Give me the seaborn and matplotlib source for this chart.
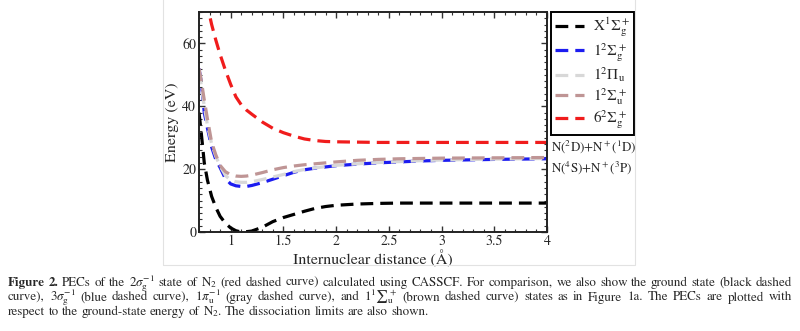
import numpy as np
import pandas as pd
import matplotlib
matplotlib.use("Agg")
import matplotlib.pyplot as plt
import seaborn as sns
from matplotlib.ticker import MultipleLocator, FuncFormatter
from matplotlib.patches import Rectangle

# ---------------- data ----------------
r = [0.70, 0.72, 0.75, 0.78, 0.82, 0.86, 0.90, 0.95, 1.00, 1.05, 1.10, 1.15, 1.20,
     1.30, 1.40, 1.50, 1.60, 1.70, 1.80, 1.90, 2.00, 2.20, 2.40, 2.60, 2.80, 3.00,
     3.50, 4.00]
e_X1Sg = [38, 32, 22, 16.5, 11.3, 7.8, 5.0, 2.8, 1.3, 0.4, 0.0, 0.1, 0.3,
          1.5, 3.3, 4.6, 5.6, 6.6, 7.5, 8.1, 8.5, 8.9, 9.1, 9.2, 9.2, 9.2, 9.2, 9.2]
e_12Sg = [52, 48, 38, 33, 27, 23, 20.5, 17, 15.3, 14.7, 14.5, 14.5, 14.8,
          15.7, 16.8, 17.9, 19.0, 19.8, 20.3, 20.7, 21.1, 21.6, 22.0, 22.3, 22.6, 22.8,
          23.1, 23.3]
e_12Pu = [51, 47, 40, 34, 28, 24, 21, 18, 16.5, 16.0, 15.8, 15.8, 16.0,
          16.7, 17.5, 18.3, 19.2, 19.9, 20.4, 20.8, 21.2, 21.7, 22.1, 22.4, 22.7, 22.9,
          23.2, 23.4]
e_12Su = [52, 48.5, 42, 36, 28.5, 24.5, 21.2, 19.2, 18.2, 17.8, 17.7, 17.8, 18.1,
          18.9, 19.8, 20.5, 21.0, 21.4, 21.7, 22.0, 22.3, 22.8, 23.1, 23.3, 23.4, 23.5,
          23.6, 23.7]
e_62Sg = [90, 85, 78, 72, 66, 61, 56.5, 51.5, 47, 43, 40.5, 38.8, 37.5,
          35.0, 33.0, 31.6, 30.5, 29.6, 29.1, 28.8, 28.7, 28.6, 28.5, 28.5, 28.5, 28.5,
          28.5, 28.5]

states = [r"X$^1\Sigma_\mathrm{g}^+$", r"1$^2\Sigma_\mathrm{g}^+$", r"1$^2\Pi_\mathrm{u}$",
          r"1$^2\Sigma_\mathrm{u}^+$", r"6$^2\Sigma_\mathrm{g}^+$"]
colors = ["#000000", "#1c1cf0", "#d8d8d8", "#bf9595", "#f01c1c"]
series = [e_X1Sg, e_12Sg, e_12Pu, e_12Su, e_62Sg]

x_ticks = [1, 1.5, 2, 2.5, 3, 3.5, 4]
y_ticks = [0, 20, 40, 60]
limit_labels = [r"N($^2$D)+N$^+$($^1$D)", r"N($^4$S)+N$^+$($^3$P)"]

caption_head = ["Figure", "2."]
caption_lines = [
    r"PECs of the 2$\sigma_\mathrm{g}^{-1}$ state of N$_2$ (red dashed curve) calculated using CASSCF. For comparison, we also show the ground state (black dashed",
    r"curve), 3$\sigma_\mathrm{g}^{-1}$ (blue dashed curve), 1$\pi_\mathrm{u}^{-1}$ (gray dashed curve), and 1$^1$∑$_\mathrm{u}^+$ (brown dashed curve) states as in Figure 1a. The PECs are plotted with",
    r"respect to the ground-state energy of N$_2$. The dissociation limits are also shown.",
]

df = pd.DataFrame({
    "r": np.tile(r, len(states)),
    "E": np.concatenate(series),
    "state": np.repeat(states, len(r)),
})

# ---------------- style ----------------
sns.set_theme(style="ticks")
plt.rcParams["font.family"] = ["STIXGeneral", "DejaVu Serif"]
plt.rcParams["mathtext.fontset"] = "stix"

W, H = 800, 331
fig = plt.figure(figsize=(W / 100, H / 100), dpi=100)
ax = fig.add_axes([199 / W, 1 - 232 / H, 348 / W, 220 / H])

sns.lineplot(data=df, x="r", y="E", hue="state", style="state",
             hue_order=states, style_order=states,
             palette=dict(zip(states, colors)),
             dashes={s: (4, 2.2) for s in states},
             linewidth=2.3, ax=ax, legend=False, sort=False)

ax.set_xlim(0.7, 4.0)
ax.set_ylim(0, 70)
ax.set_xticks(x_ticks)
ax.set_yticks(y_ticks)
ax.xaxis.set_major_formatter(FuncFormatter(lambda v, p: f"{v:g}"))
ax.xaxis.set_minor_locator(MultipleLocator(0.1))
ax.yaxis.set_minor_locator(MultipleLocator(2))
ax.tick_params(which="both", direction="in", top=True, right=True,
               color="#333333", labelsize=10, pad=2)
ax.tick_params(which="major", length=4.5, width=1.0)
ax.tick_params(which="minor", length=2.2, width=0.8)
for sp in ax.spines.values():
    sp.set_linewidth(1.4)
    sp.set_color("#222222")
ax.set_xlabel("Internuclear distance (Å)", fontsize=11.5, labelpad=1)
ax.set_ylabel("Energy (eV)", fontsize=11.5, labelpad=2)

leg = ax.legend(handles=ax.lines[:len(states)], labels=states,
                loc="upper left", bbox_to_anchor=(551 / W, 1 - 12 / H),
                bbox_transform=fig.transFigure, fontsize=11, frameon=True,
                fancybox=False, edgecolor="black", framealpha=1,
                handlelength=1.9, handletextpad=0.6, labelspacing=0.12,
                borderpad=0.25, borderaxespad=0)
leg.get_frame().set_linewidth(1.4)

fig.text(551 / W, 1 - 147 / H, limit_labels[0], fontsize=9.4, va="center", ha="left")
fig.text(551 / W, 1 - 168 / H, limit_labels[1], fontsize=9.4, va="center", ha="left")

# light frame around the figure panel
fig.patches.append(Rectangle((163 / W, 1 - 265 / H), (635 - 163) / W, 0.9,
                             transform=fig.transFigure, fill=False,
                             edgecolor="#e2e2e2", linewidth=0.8))

# ---------------- caption (justified, word by word) ----------------
renderer = fig.canvas.get_renderer()


def measure(s, size, weight="normal"):
    t = fig.text(0, 0, s, fontsize=size, fontweight=weight)
    w = t.get_window_extent(renderer).width
    t.remove()
    return w


base = 10
last_words = caption_lines[2].split()
sp_base = measure("a a", base) - measure("aa", base)
w3 = sum(measure(wd, base) for wd in last_words) + (len(last_words) - 1) * sp_base
csize = base * (425 - 8) / w3
space_px = sp_base * csize / base

x0, x1 = 8, 792
baselines = [286, 300.5, 315]
for i, line in enumerate(caption_lines):
    words = [(w, "normal") for w in line.split()]
    if i == 0:
        words = [(w, "bold") for w in caption_head] + words
    widths = [measure(w, csize, wt) for w, wt in words]
    if i < len(caption_lines) - 1:
        gap = (x1 - x0 - sum(widths)) / (len(words) - 1)
    else:
        gap = space_px
    x = x0
    for (w, wt), wd in zip(words, widths):
        fig.text(x / W, 1 - baselines[i] / H, w, fontsize=csize, fontweight=wt,
                 ha="left", va="baseline")
        x += wd + gap

fig.savefig("out.png", dpi=100)
